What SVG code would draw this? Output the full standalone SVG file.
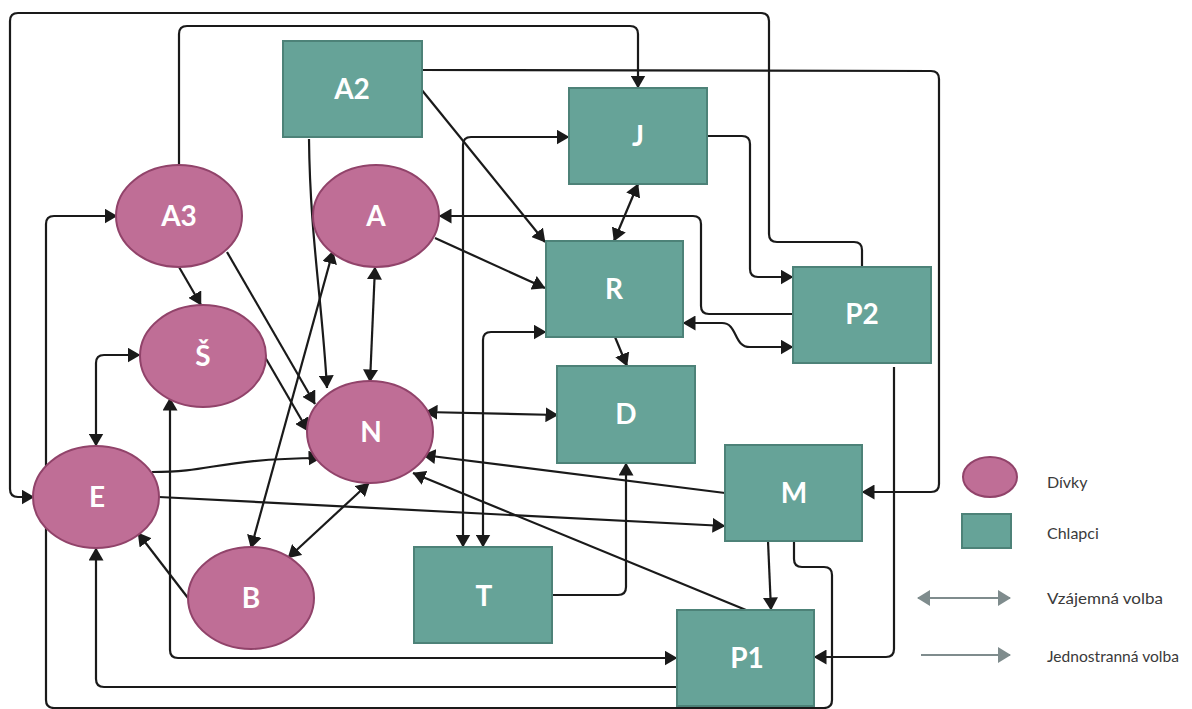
<svg xmlns="http://www.w3.org/2000/svg" width="1192" height="709" viewBox="0 0 1192 709">
<defs>
<marker id="ah" viewBox="0 0 13 15" refX="12.5" refY="7.5" markerWidth="13" markerHeight="15" markerUnits="userSpaceOnUse" orient="auto-start-reverse"><path d="M0,0 L13,7.5 L0,15 z" fill="#1a1a1a"/></marker>
<marker id="ahg" viewBox="0 0 13 16" refX="12" refY="8" markerWidth="13" markerHeight="16" markerUnits="userSpaceOnUse" orient="auto-start-reverse"><path d="M0,0 L13,8 L0,16 z" fill="#7f8c8d"/></marker>
</defs>
<style>
.g ellipse{fill:#bf6e96;stroke:#91436a;stroke-width:2}
.b rect{fill:#66a398;stroke:#4d8278;stroke-width:2}
.lbl{fill:#ffffff;font-family:Lato,"Open Sans","Liberation Sans",sans-serif;font-weight:bold;font-size:28px;text-anchor:middle}
#connectors path{fill:none;stroke:#1a1a1a;stroke-width:2.2;marker-end:url(#ah)}
#connectors path.m{marker-start:url(#ah)}
.leg{fill:#3a3a3a;font-family:Lato,"Liberation Sans",sans-serif;font-size:16px}
.legl{stroke:#7f8c8d;stroke-width:2;fill:none}
</style>
<rect width="1192" height="709" fill="#ffffff"/>
<g id="connectors">
<path d="M862 267 L862 250 Q862 242 854 242 L777 242 Q769 242 769 234 L769 21 Q769 13 761 13 L18 13 Q10 13 10 21 L10 489 Q10 497 18 497 L34 497"/>
<path d="M179 165 L179 34 Q179 26 187 26 L630 26 Q638 26 638 34 L638 88"/>
<path d="M422 70 L931 71 Q939 71 939 79 L939 484 Q939 492 931 492 L862 492"/>
<path d="M421 89 L545 242"/>
<path d="M309 139 C310 235 322 300 327 388"/>
<path class="m" d="M569 137 L471 137 Q463 137 463 145 L463 547"/>
<path class="m" d="M546 332 L491 332 Q483 332 483 340 L483 547"/>
<path class="m" d="M638 184 L614 241"/>
<path d="M707 136 L742 136 Q750 136 750 144 L750 269 Q750 277 758 277 L793 277"/>
<path d="M793 314 L709 314 Q701 314 701 306 L701 224 Q701 216 693 216 L439 216"/>
<path class="m" d="M683 323 L722 323 C738 323 733 347 750 347 L793 347"/>
<path d="M435 238 L545 288"/>
<path d="M615 337 L627 366"/>
<path class="m" d="M425 412 L558 415"/>
<path class="m" d="M375 267 L370 382"/>
<path d="M179 267 L201 305"/>
<path d="M227 252 L315 404"/>
<path d="M265 357 L308 431"/>
<path class="m" d="M333 251 L251 548"/>
<path class="m" d="M369 483 L288 558"/>
<path class="m" d="M96 446 L96 363 Q96 355 104 355 L140 355"/>
<path d="M152 472 C215 472 215 459 321 458"/>
<path d="M159 497 L725 526"/>
<path d="M188 598 L138 533"/>
<path d="M725 493 L423 455"/>
<path d="M746 610 L413 473"/>
<path d="M768 541 L771 610"/>
<path d="M794 541 L794 559 Q794 567 802 567 L824 567 Q832 567 832 575 L832 700 Q832 708 824 708 L54 708 Q46 708 46 700 L46 224 Q46 216 54 216 L117 216"/>
<path d="M894 367 L894 649 Q894 657 886 657 L814 657"/>
<path d="M552 595 L618 595 Q626 595 626 587 L626 463"/>
<path class="m" d="M170 398 L170 650 Q170 658 178 658 L677 658"/>
<path d="M677 687 L104 687 Q96 687 96 679 L96 548"/>
</g>
<g id="A2" class="b"><rect x="283" y="41" width="139" height="96"/><text class="lbl" x="352" y="99">A2</text></g>
<g id="J" class="b"><rect x="569" y="88" width="138" height="96"/><text class="lbl" x="638" y="146">J</text></g>
<g id="R" class="b"><rect x="546" y="241" width="137" height="96"/><text class="lbl" x="614" y="299">R</text></g>
<g id="P2" class="b"><rect x="793" y="267" width="138" height="96"/><text class="lbl" x="862" y="324">P2</text></g>
<g id="D" class="b"><rect x="557" y="366" width="138" height="97"/><text class="lbl" x="626" y="424">D</text></g>
<g id="M" class="b"><rect x="725" y="445" width="137" height="96"/><text class="lbl" x="794" y="503">M</text></g>
<g id="T" class="b"><rect x="414" y="547" width="138" height="96"/><text class="lbl" x="484" y="606">T</text></g>
<g id="P1" class="b"><rect x="677" y="610" width="137" height="96"/><text class="lbl" x="747" y="668">P1</text></g>
<g id="A3" class="g"><ellipse cx="179" cy="216" rx="63" ry="51"/><text class="lbl" x="179" y="226">A3</text></g>
<g id="A" class="g"><ellipse cx="376" cy="216" rx="63" ry="51"/><text class="lbl" x="376" y="226">A</text></g>
<g id="S" class="g"><ellipse cx="203" cy="356" rx="63" ry="51"/><text class="lbl" x="203" y="366">Š</text></g>
<g id="N" class="g"><ellipse cx="370" cy="432" rx="63" ry="51"/><text class="lbl" x="371" y="442">N</text></g>
<g id="E" class="g"><ellipse cx="96" cy="497" rx="63" ry="51"/><text class="lbl" x="97" y="507">E</text></g>
<g id="B" class="g"><ellipse cx="251" cy="598" rx="63" ry="51"/><text class="lbl" x="251" y="608">B</text></g>
<g id="legend">
<ellipse cx="990" cy="477" rx="27" ry="20" fill="#bf6e96" stroke="#91436a" stroke-width="2"/>
<text class="leg" x="1047" y="488">Dívky</text>
<rect x="962" y="514" width="49" height="34" fill="#66a398" stroke="#4d8278" stroke-width="2"/>
<text class="leg" x="1047" y="539">Chlapci</text>
<path class="legl" d="M918 598 L1010 598" marker-start="url(#ahg)" marker-end="url(#ahg)"/>
<text class="leg" x="1047" y="604" textLength="116" lengthAdjust="spacingAndGlyphs">Vzájemná volba</text>
<path class="legl" d="M921 655 L1010 655" marker-end="url(#ahg)"/>
<text class="leg" x="1047" y="662" textLength="132" lengthAdjust="spacingAndGlyphs">Jednostranná volba</text>
</g>
</svg>
